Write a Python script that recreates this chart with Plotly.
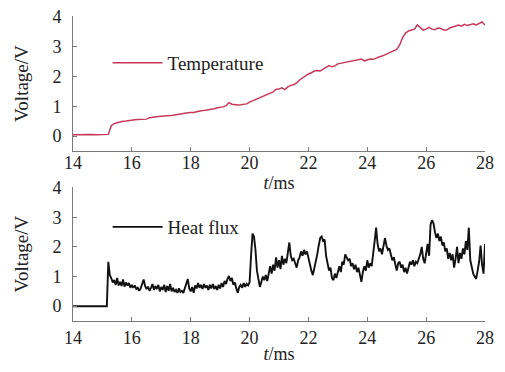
import numpy as np
import plotly.graph_objects as go
from plotly.subplots import make_subplots

# ---- data ----
pre_t = [14.0, 14.2, 14.4, 14.6, 14.8, 15.0, 15.15]
pre_temp = [0.05, 0.06, 0.05, 0.06, 0.05, 0.06, 0.05]
pre_flux = [0.0, 0.0, 0.0, 0.0, 0.0, 0.0, 0.0]

temp_vals = [
    0.06, 0.35, 0.42, 0.45, 0.48, 0.50, 0.51, 0.53, 0.54, 0.55,
    0.56, 0.57, 0.58, 0.57, 0.62, 0.64, 0.65, 0.66, 0.67, 0.67,
    0.68, 0.69, 0.70, 0.72, 0.73, 0.75, 0.76, 0.78, 0.79, 0.79,
    0.82, 0.85, 0.86, 0.87, 0.88, 0.89, 0.92, 0.95, 0.96, 0.98,
    1.02, 1.12, 1.07, 1.05, 1.04, 1.05, 1.06, 1.08, 1.14, 1.18,
    1.22, 1.27, 1.32, 1.34, 1.38, 1.42, 1.48, 1.57, 1.58, 1.62,
    1.56, 1.65, 1.70, 1.72, 1.78, 1.88, 1.95, 2.02, 2.08, 2.12,
    2.18, 2.20, 2.18, 2.24, 2.30, 2.36, 2.32, 2.35, 2.42, 2.44,
    2.46, 2.48, 2.50, 2.52, 2.54, 2.56, 2.58, 2.52, 2.56, 2.58,
    2.57, 2.62, 2.65, 2.68, 2.72, 2.76, 2.80, 2.85, 2.90, 3.05,
    3.30, 3.45, 3.52, 3.55, 3.58, 3.72, 3.62, 3.55, 3.58, 3.64,
    3.58, 3.56, 3.62, 3.60, 3.55, 3.55, 3.62, 3.65, 3.70, 3.72,
    3.68, 3.74, 3.70, 3.72, 3.76, 3.72, 3.78, 3.82, 3.72,
]

flux_vals = [
    1.50, 1.05, 0.95, 0.80, 0.88, 0.72, 0.95, 0.70, 0.82, 0.68,
    0.90, 0.66, 0.80, 0.70, 0.78, 0.62, 0.72, 0.62, 0.70, 0.58,
    0.62, 0.52, 0.60, 0.75, 0.90, 0.68, 0.58, 0.66, 0.52, 0.62,
    0.75, 0.55, 0.68, 0.58, 0.72, 0.50, 0.65, 0.55, 0.72, 0.48,
    0.68, 0.52, 0.75, 0.50, 0.62, 0.48, 0.55, 0.45, 0.60, 0.48,
    0.52, 0.45, 0.62, 0.75, 0.92, 0.60, 0.50, 0.65, 0.45, 0.70,
    0.60, 0.78, 0.62, 0.72, 0.58, 0.75, 0.62, 0.70, 0.55, 0.72,
    0.60, 0.75, 0.58, 0.68, 0.55, 0.72, 0.60, 0.78, 0.65, 0.85,
    0.75, 0.92, 1.02, 0.85, 0.95, 0.72, 0.80, 0.60, 0.45, 0.65,
    0.72, 0.62, 0.78, 0.65, 0.75, 0.70, 0.80, 1.70, 2.45, 2.35,
    1.90, 1.20, 0.90, 0.65, 0.82, 1.00, 0.88, 1.05, 0.85, 1.15,
    1.35, 1.10, 1.40, 1.20, 1.65, 1.30, 1.55, 1.25, 1.70, 1.40,
    1.60, 1.45, 1.75, 2.15, 1.70, 1.55, 1.60, 1.40, 1.30, 1.55,
    1.65, 1.85, 1.70, 1.90, 1.75, 1.85, 1.60, 1.40, 1.20, 1.05,
    1.25, 1.50, 1.75, 2.05, 2.30, 2.35, 2.20, 2.25, 1.70, 1.45,
    1.20, 1.30, 0.95, 0.88, 1.10, 0.95, 1.20, 1.35, 1.15, 1.50,
    1.40, 1.75, 1.65, 1.55, 1.60, 1.35, 1.45, 1.25, 1.40, 1.15,
    1.30, 1.05, 0.82, 1.15, 1.35, 1.20, 1.55, 1.30, 1.45, 1.35,
    1.70, 2.20, 2.65, 2.10, 1.85, 1.95, 1.75, 2.00, 2.30, 2.05,
    1.90, 1.95, 1.70, 1.55, 1.65, 1.40, 1.20, 1.45, 1.50, 1.30,
    1.40, 1.15, 1.30, 1.10, 1.35, 1.50, 1.40, 1.55, 1.35, 1.50,
    1.45, 1.60, 1.75, 2.00, 1.60, 1.45, 1.85, 2.10, 1.70, 2.75,
    2.90, 2.80, 2.50, 2.30, 2.45, 2.20, 2.35, 2.05, 2.15, 1.85,
    1.95, 1.60, 1.80, 1.55, 1.75, 1.30, 1.60, 2.00, 1.45, 1.80,
    1.60, 1.95, 1.75, 2.20, 1.90, 2.65, 1.55, 1.25, 1.10, 1.00,
    0.92, 1.20, 1.50, 2.05, 1.40, 1.10, 2.10,
]

x_ticks = [14, 16, 18, 20, 22, 24, 26, 28]
y_ticks = [0, 1, 2, 3, 4]

temp_t = list(np.linspace(15.2, 28.0, len(temp_vals)))
flux_t = list(np.linspace(15.2, 28.0, len(flux_vals)))

t_temp = pre_t + temp_t
v_temp = pre_temp + temp_vals
t_flux = pre_t + flux_t
v_flux = pre_flux + flux_vals

# ---- figure ----
FONT = "Liberation Serif"
AX = "#7a7a7a"
TXT = "#222222"

fig = make_subplots(rows=2, cols=1)

fig.add_trace(go.Scatter(x=t_temp, y=v_temp, mode="lines", name="Temperature",
                         line=dict(color="#c8385a", width=1.5), legend="legend"),
              row=1, col=1)
fig.add_trace(go.Scatter(x=t_flux, y=v_flux, mode="lines", name="Heat flux",
                         line=dict(color="#111111", width=1.9), legend="legend2"),
              row=2, col=1)

common_x = dict(range=[14, 28], tickvals=x_ticks, ticks="inside", ticklen=4,
                tickcolor=AX, showline=True, linecolor=AX, linewidth=1,
                showgrid=False, zeroline=False, automargin=False,
                ticklabelstandoff=-5, ticklabeloverflow="allow",
                tickfont=dict(family=FONT, size=18, color=TXT),
                title=dict(text="<i>t</i>/ms", font=dict(family=FONT, size=18, color=TXT),
                           standoff=4))
common_y = dict(range=[-0.5, 4.02], tickvals=y_ticks, ticks="inside", ticklen=4,
                tickcolor=AX, showline=True, linecolor=AX, linewidth=1,
                showgrid=False, zeroline=False, ticklabelstandoff=7, automargin=False,
                ticklabeloverflow="allow",
                tickfont=dict(family=FONT, size=18, color=TXT),
                title=dict(text="Voltage/V", font=dict(family=FONT, size=19, color=TXT),
                           standoff=18))

fig.update_xaxes(**common_x)
fig.update_yaxes(**common_y)
fig.update_layout(
    width=489, height=356,
    margin=dict(l=65, r=12, t=8, b=43),
    paper_bgcolor="white", plot_bgcolor="white",
    showlegend=True,
    legend=dict(x=0.084, y=0.846, xanchor="left", yanchor="middle",
                bgcolor="rgba(0,0,0,0)", itemwidth=50,
                font=dict(family=FONT, size=19, color=TXT)),
    legend2=dict(x=0.084, y=0.308, xanchor="left", yanchor="middle",
                 bgcolor="rgba(0,0,0,0)", itemwidth=50,
                 font=dict(family=FONT, size=19, color=TXT)),
)
fig.update_layout(xaxis=dict(domain=[0, 1]),
                  xaxis2=dict(domain=[0, 1], ticklabelstandoff=0,
                              title=dict(standoff=1)),
                  yaxis=dict(domain=[0.557, 1.0]), yaxis2=dict(domain=[0.0, 0.439]))

fig.write_html("out.html")
